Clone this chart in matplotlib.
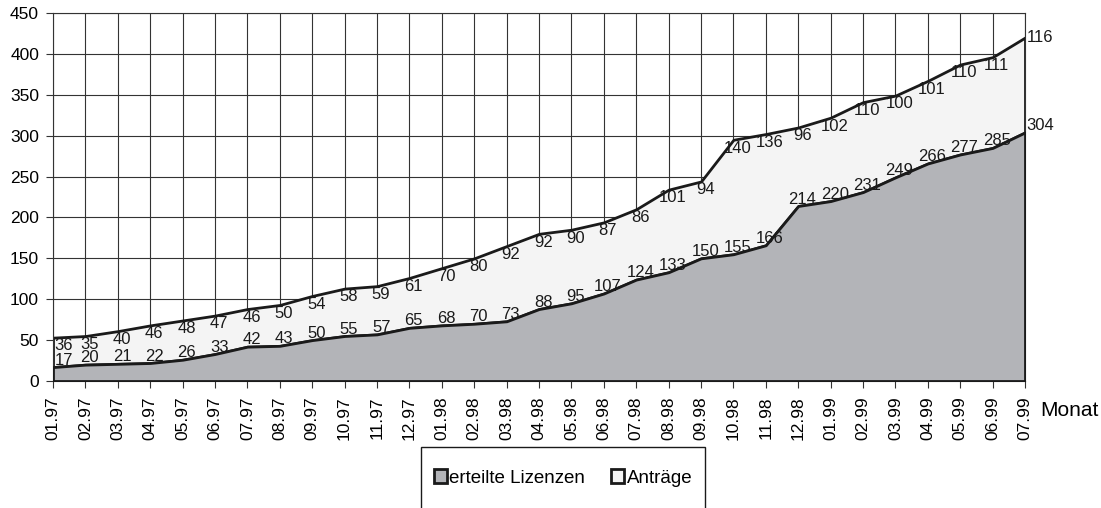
import numpy as np
import matplotlib
matplotlib.use("Agg")
import matplotlib.pyplot as plt
from matplotlib.patches import Rectangle, Patch

plt.rcParams['font.family'] = ['Liberation Sans', 'DejaVu Sans']

# data
monate = ['01.97', '02.97', '03.97', '04.97', '05.97', '06.97', '07.97', '08.97',
          '09.97', '10.97', '11.97', '12.97', '01.98', '02.98', '03.98', '04.98',
          '05.98', '06.98', '07.98', '08.98', '09.98', '10.98', '11.98', '12.98',
          '01.99', '02.99', '03.99', '04.99', '05.99', '06.99', '07.99']
lizenzen = [17, 20, 21, 22, 26, 33, 42, 43, 50, 55, 57, 65, 68, 70, 73, 88,
            95, 107, 124, 133, 150, 155, 166, 214, 220, 231, 249, 266, 277, 285, 304]
antraege = [36, 35, 40, 46, 48, 47, 46, 50, 54, 58, 59, 61, 70, 80, 92, 92,
            90, 87, 86, 101, 94, 140, 136, 96, 102, 110, 100, 101, 110, 111, 116]

x = np.arange(len(monate))
liz = np.array(lizenzen)
top = liz + np.array(antraege)

fig = plt.figure(figsize=(11.01, 5.08), dpi=100)
ax = fig.add_axes([53/1101, 1 - 381/508, (1025 - 53)/1101, (381 - 13)/508])

c_liz = '#b3b4b8'
c_ant = '#f4f4f4'
ax.fill_between(x, liz, top, facecolor=c_ant, edgecolor='#1a1a1a', lw=2, zorder=2)
ax.fill_between(x, 0, liz, facecolor=c_liz, edgecolor='#1a1a1a', lw=2, zorder=3)

ax.set_xlim(0, len(monate) - 1)
ax.set_ylim(0, 450)
ax.set_yticks(np.arange(0, 451, 50))
ax.set_xticks(x)
ax.set_xticklabels(monate, rotation=90, fontsize=12.5)
ax.tick_params(axis='y', labelsize=12.5, length=5, width=0.8, color='#333333', pad=5)
ax.tick_params(axis='x', length=5, width=0.8, color='#333333', pad=6)
ax.set_axisbelow(True)
ax.grid(True, color='#333333', lw=0.8)
for s in ax.spines.values():
    s.set_color('#333333')
    s.set_linewidth(0.8)

# data labels
n = len(monate)
for i in range(n):
    if i == 0:
        ha, dx = 'left', 1
    elif i == n - 1:
        ha, dx = 'left', 1
    else:
        ha, dx = 'center', 3
    ax.annotate(str(lizenzen[i]), (x[i], liz[i]), xytext=(dx, 5),
                textcoords='offset points', ha=ha, va='center', fontsize=12,
                color='#1a1a1a', zorder=5, annotation_clip=False)
    ax.annotate(str(antraege[i]), (x[i], top[i]), xytext=(dx, -6 if i < n - 1 else 0),
                textcoords='offset points', ha=ha, va='center', fontsize=12,
                color='#1a1a1a', zorder=5, annotation_clip=False)

fig.text(1040/1101, 1 - 410/508, 'Monat', fontsize=15, va='center', ha='left')

# legend box
fig.patches.append(Rectangle((421/1101, -0.01), (705 - 421)/1101, (1 - 447/508) + 0.01,
                             transform=fig.transFigure, facecolor='white',
                             edgecolor='#1a1a1a', lw=1))
handles = [Patch(facecolor=c_liz, edgecolor='#1a1a1a', lw=2, label='erteilte Lizenzen'),
           Patch(facecolor=c_ant, edgecolor='#1a1a1a', lw=2, label='Anträge')]
fig.legend(handles=handles, loc='center', bbox_to_anchor=(563/1101, 1 - 478/508),
           ncol=2, frameon=False, fontsize=13.5, handlelength=0.7, handleheight=0.7,
           handletextpad=0.12, columnspacing=1.4)

fig.savefig('out.png', dpi=100)
